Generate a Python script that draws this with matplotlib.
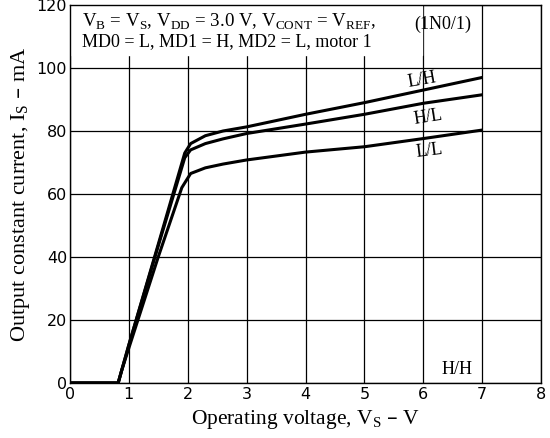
import matplotlib.pyplot as plt

# curve data (V_S in V, I_S in mA)
vs_lh = [0, 0.82, 0.88, 1.0, 1.5, 1.95, 2.05, 2.3, 2.6, 3, 4, 5, 6, 7]
is_lh = [0, 0, 4, 12, 44, 73, 76, 78.5, 80, 81.3, 85.3, 89, 93, 97]

vs_hl = [0, 0.82, 0.88, 1.0, 1.5, 1.95, 2.05, 2.3, 2.6, 3, 4, 5, 6, 7]
is_hl = [0, 0, 4, 12, 43.5, 71.5, 74, 76, 77.5, 79.2, 82.2, 85.3, 88.8, 91.5]

vs_ll = [0, 0.82, 0.88, 1.0, 1.5, 1.9, 2.05, 2.3, 2.6, 3, 4, 5, 6, 7]
is_ll = [0, 0, 4, 11, 40, 62, 66.5, 68.3, 69.5, 70.8, 73.3, 75, 77.6, 80.3]

curve_labels = ['L/H', 'H/L', 'L/L']
x_ticks = [0, 1, 2, 3, 4, 5, 6, 7, 8]
y_ticks = [0, 20, 40, 60, 80, 100, 120]

serif = 'Liberation Serif'
sans = 'DejaVu Sans'

fig = plt.figure(figsize=(5.5, 4.38), dpi=100)
ax = fig.add_axes([0.127, 0.1256, 0.857, 0.863])

ax.set_xlim(0, 8)
ax.set_ylim(0, 120)
ax.set_xticks(x_ticks)
ax.set_yticks(y_ticks)
ax.grid(True, color='black', linewidth=0.9)
ax.set_axisbelow(True)
for sp in ax.spines.values():
    sp.set_linewidth(1.0)
ax.tick_params(length=0, labelsize=11.5)
ax.tick_params(axis='x', pad=3)
ax.tick_params(axis='y', pad=2)
for lab in ax.get_xticklabels() + ax.get_yticklabels():
    lab.set_family(sans)

for xs, ys in [(vs_lh, is_lh), (vs_hl, is_hl), (vs_ll, is_ll)]:
    ax.plot(xs, ys, color='black', linewidth=2.2, solid_capstyle='butt', zorder=3)

# curve labels
ax.text(5.97, 96.2, curve_labels[0], family=serif, fontsize=13, rotation=10, ha='center', va='center')
ax.text(6.08, 84.2, curve_labels[1], family=serif, fontsize=13, rotation=9, ha='center', va='center')
ax.text(6.11, 73.8, curve_labels[2], family=serif, fontsize=13, rotation=7, ha='center', va='center')
ax.text(6.57, 4.4, 'H/H', family=serif, fontsize=13, ha='center', va='center')
ax.text(6.33, 113.8, '(1N0/1)', family=serif, fontsize=13, ha='center', va='center')

# condition box (white background covers the grid)
ax.fill_between([0.02, 5.97], 104, 119.8, color='white', zorder=2)
ax.text(0.2, 114.6, r'V$_\mathregular{B}$ = V$_\mathregular{S}$, V$_\mathregular{DD}$ = 3.0 V, '
        r'V$_\mathregular{CONT}$ = V$_\mathregular{REF}$,',
        family=serif, fontsize=13.6, ha='left', va='center', zorder=4)
ax.text(0.2, 108.3, 'MD0 = L, MD1 = H, MD2 = L, motor 1',
        family=serif, fontsize=13, ha='left', va='center', zorder=4)

ax.set_xlabel(r'Operating voltage, V$_\mathregular{S}$ – V', family=serif, fontsize=15.5, labelpad=4)
ax.set_ylabel(r'Output constant current, I$_\mathregular{S}$ – mA', family=serif, fontsize=16, labelpad=3)

plt.savefig('out.png', dpi=100)
